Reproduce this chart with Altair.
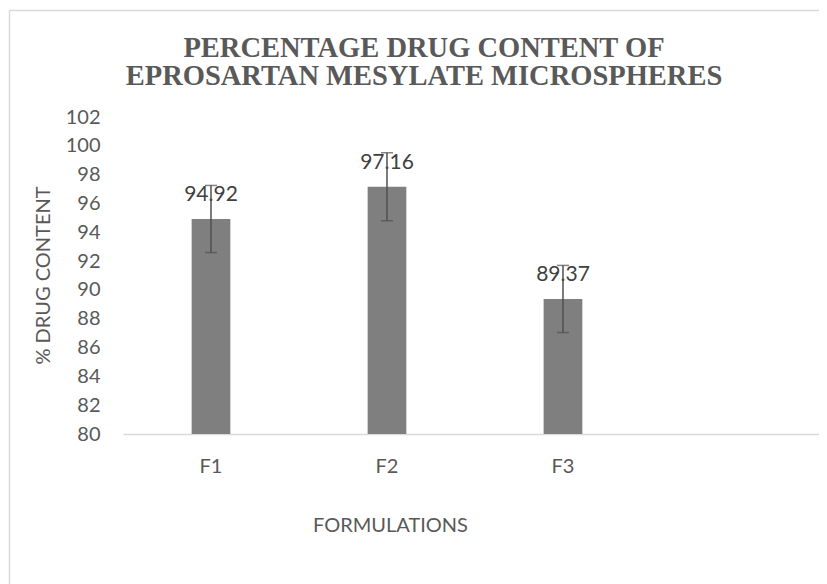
import altair as alt
import pandas as pd

formulations = ["F1", "F2", "F3"]
drug_content = [94.92, 97.16, 89.37]
std_dev = [2.33, 2.36, 2.33]
y_ticks = list(range(80, 103, 2))
y_floor = 80

df = pd.DataFrame({"Formulation": formulations, "Content": drug_content, "SD": std_dev})
df["lo"] = df["Content"] - df["SD"]
df["hi"] = df["Content"] + df["SD"]
df["label"] = df["Content"].map(lambda v: f"{v:.2f}")

W, H = 696, 317
GRAY = "#595959"
FONT = "Lato"

xscale = alt.Scale(domain=formulations, paddingInner=0.78, paddingOuter=0.8673, align=0.2248)
yscale = alt.Scale(domain=[80, 102], nice=False, zero=False)

x_enc = alt.X(
    "Formulation:N", scale=xscale, sort=formulations,
    axis=alt.Axis(
        title="FORMULATIONS", labelAngle=0, ticks=False, tickSize=0,
        domainColor="#d9d9d9", domainWidth=1.5, labelPadding=22,
        labelFont=FONT, labelFontSize=20, labelColor=GRAY,
        titleFont=FONT, titleFontSize=20, titleFontWeight="normal", titleColor=GRAY,
        titleX=267, titleY=91, titleBaseline="middle", titleAlign="center",
    ),
)
y_axis = alt.Axis(
    title="% DRUG CONTENT", values=y_ticks, grid=False, domain=False, ticks=False, tickSize=0,
    labelPadding=23, labelFont=FONT, labelFontSize=20, labelColor=GRAY,
    titleFont=FONT, titleFontSize=20, titleFontWeight="normal", titleColor=GRAY,
    titleX=-80, titleY=158, titleAngle=270, titleBaseline="middle", titleAlign="center",
)

base = alt.Chart(df)
bars = base.mark_bar(color="#7f7f7f").encode(
    x=x_enc, y=alt.Y("Content:Q", scale=yscale, axis=y_axis), y2=alt.Y2(datum=y_floor)
)
labels = base.mark_text(dy=-24, fontSize=21, font=FONT, color="#404040", baseline="middle").encode(
    x=x_enc, y=alt.Y("Content:Q", scale=yscale, axis=y_axis), text="label:N"
)
err = base.mark_rule(color="#505050", strokeWidth=1.5).encode(
    x=x_enc, y=alt.Y("lo:Q", scale=yscale, axis=y_axis), y2="hi:Q"
)
cap_hi = base.mark_tick(color="#505050", thickness=1.5, size=12, orient="horizontal").encode(
    x=x_enc, y=alt.Y("hi:Q", scale=yscale, axis=y_axis)
)
cap_lo = base.mark_tick(color="#505050", thickness=1.5, size=12, orient="horizontal").encode(
    x=x_enc, y=alt.Y("lo:Q", scale=yscale, axis=y_axis)
)

frame_df = pd.DataFrame({"k": [0]})
frame_v = alt.Chart(frame_df).mark_rule(color="#d9d9d9", strokeWidth=1.5).encode(
    x=alt.value(-113.5), y=alt.value(-106.5), y2=alt.value(480)
)
frame_h = alt.Chart(frame_df).mark_rule(color="#d9d9d9", strokeWidth=1.5).encode(
    x=alt.value(-113.5), x2=alt.value(720), y=alt.value(-106.5)
)

chart = alt.layer(frame_v, frame_h, bars, labels, err, cap_hi, cap_lo).properties(
    width=W, height=H,
    title=alt.TitleParams(
        ["PERCENTAGE DRUG CONTENT OF", "EPROSARTAN MESYLATE MICROSPHERES"],
        font="Liberation Serif", fontSize=28.5, fontWeight="bold", color=GRAY,
        anchor="middle", dx=-47, dy=135, lineHeight=28, offset=31, frame="group",
        baseline="alphabetic",
    ),
    autosize=alt.AutoSizeParams(type="none"),
    padding={"left": 115, "top": 109, "right": 0, "bottom": 150},
).configure_view(stroke=None)

chart.save("out.html", embed_options={"renderer": "svg", "actions": False})
